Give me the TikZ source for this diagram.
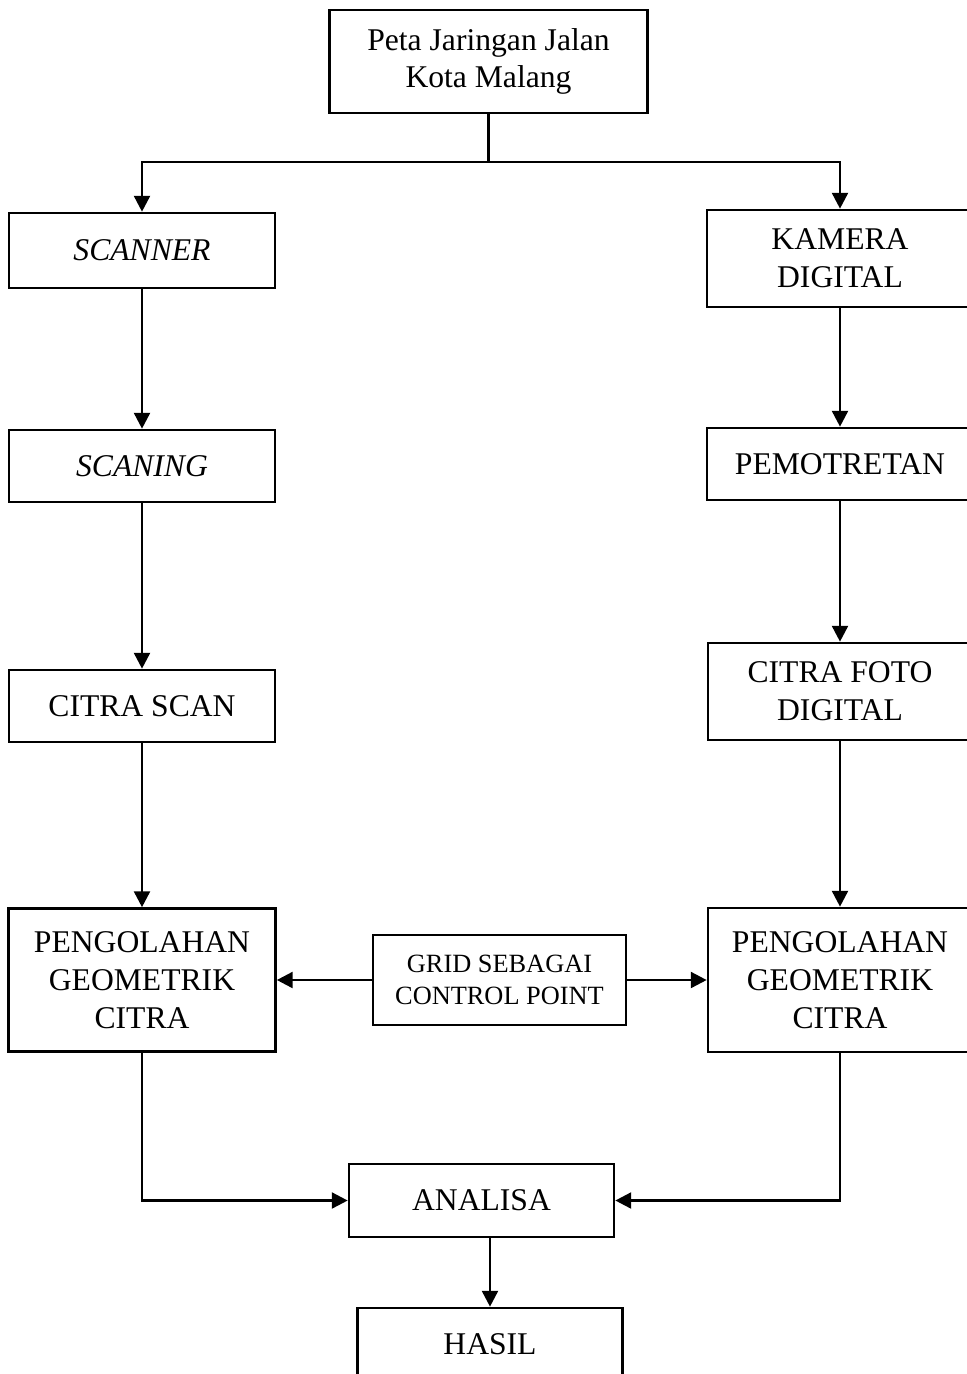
\documentclass[tikz,border=0pt]{standalone}
\usepackage{fontspec}
\setmainfont{Liberation Serif}
\usetikzlibrary{arrows.meta}

\begin{document}
\begin{tikzpicture}[
        x=0.02cm, y=-0.02cm,
        kotak/.style={draw, line width=1.5pt, align=center, inner sep=2pt,
            font=\fontsize{18}{21.5}\selectfont},
        panah/.style={line width=1.5pt, -{Triangle[length=9pt, width=9pt]}},
        garis/.style={line width=1.5pt},
    ]
        \useasboundingbox (0,0) rectangle (967,1374);

        % Define Top Node
        \node[kotak, minimum width=318*0.02cm, minimum height=103*0.02cm] (peta) at (488.5, 61.5)
            {\fontsize{18}{20.5}\selectfont Peta Jaringan Jalan\\Kota Malang};
        \coordinate (cabang) at (488.5, 162);

        % Define Left Column Nodes
        \node[kotak, minimum width=266*0.02cm, minimum height=75*0.02cm] (scanner) at (142, 250.5) {\itshape SCANNER};
        \node[kotak, minimum width=266*0.02cm, minimum height=72*0.02cm] (scaning) at (142, 466) {\itshape SCANING};
        \node[kotak, minimum width=266*0.02cm, minimum height=72*0.02cm] (citrascan) at (142, 706) {CITRA SCAN};
        \node[kotak, minimum width=267*0.02cm, minimum height=143*0.02cm] (olahkiri) at (142, 980)
            {PENGOLAHAN\\GEOMETRIK\\CITRA};

        % Define Right Column Nodes
        \node[kotak, minimum width=266*0.02cm, minimum height=97*0.02cm] (kamera) at (840, 258.5) {KAMERA\\DIGITAL};
        \node[kotak, minimum width=266*0.02cm, minimum height=72*0.02cm] (pemotretan) at (840, 464) {PEMOTRETAN};
        \node[kotak, minimum width=264*0.02cm, minimum height=97*0.02cm] (citrafoto) at (840, 691.5) {CITRA FOTO\\DIGITAL};
        \node[kotak, minimum width=264*0.02cm, minimum height=144*0.02cm] (olahkanan) at (840, 980)
            {PENGOLAHAN\\GEOMETRIK\\CITRA};

        % Define Middle Nodes
        \node[kotak, minimum width=253*0.02cm, minimum height=90*0.02cm,
            font=\fontsize{15}{18}\selectfont] (grid) at (499.5, 980) {GRID SEBAGAI\\CONTROL POINT};
        \node[kotak, minimum width=265*0.02cm, minimum height=73*0.02cm] (analisa) at (481.5, 1200.5) {ANALISA};
        \node[kotak, minimum width=265*0.02cm, minimum height=72*0.02cm] (hasil) at (490, 1344) {HASIL};

        % Draw Edges (Peta -> both branches)
        \draw[garis] (peta) -- (cabang);
        \draw[panah] (cabang) -| (scanner);
        \draw[panah] (cabang) -| (kamera);

        % Draw Edges down each column
        \draw[panah] (scanner) -- (scaning);
        \draw[panah] (scaning) -- (citrascan);
        \draw[panah] (citrascan) -- (olahkiri);
        \draw[panah] (kamera) -- (pemotretan);
        \draw[panah] (pemotretan) -- (citrafoto);
        \draw[panah] (citrafoto) -- (olahkanan);

        % Draw Edges from Grid to both sides
        \draw[panah] (grid) -- (olahkiri);
        \draw[panah] (grid) -- (olahkanan);

        % Draw Edges to Analisa and Hasil
        \draw[panah] (olahkiri.south) |- (analisa.west);
        \draw[panah] (olahkanan.south) |- (analisa.east);
        \draw[panah] (analisa.south -| hasil.north) -- (hasil.north);
    \end{tikzpicture}
\end{document}
